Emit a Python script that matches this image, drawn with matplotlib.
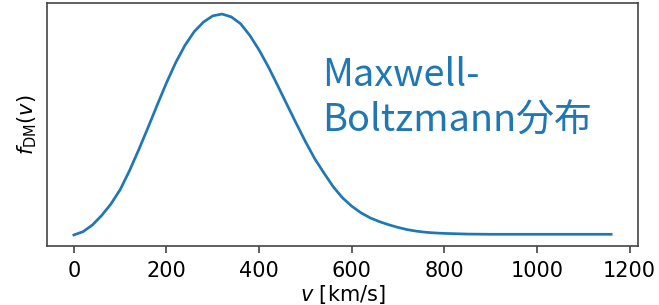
import matplotlib
matplotlib.use("Agg")
import matplotlib.pyplot as plt

# speed [km/s] and distribution value (arbitrary units)
v_kms = [0, 20, 40, 60, 80, 100, 120, 140, 160, 180, 200, 220, 240, 260,
         280, 300, 320, 340, 360, 380, 400, 420, 440, 460, 480, 500, 520,
         540, 560, 580, 600, 620, 640, 660, 680, 700, 720, 740, 760, 780,
         800, 850, 900, 1000, 1100, 1160]
f_dm = [0.000, 0.015, 0.045, 0.088, 0.140, 0.205, 0.290, 0.385, 0.485,
        0.588, 0.688, 0.780, 0.858, 0.920, 0.963, 0.991, 0.999, 0.986,
        0.955, 0.902, 0.836, 0.760, 0.676, 0.590, 0.505, 0.422, 0.345,
        0.280, 0.218, 0.168, 0.130, 0.100, 0.077, 0.060, 0.046, 0.034,
        0.024, 0.017, 0.012, 0.009, 0.007, 0.004, 0.003, 0.003, 0.003,
        0.003]

label = "Maxwell-\nBoltzmann分布"

fig = plt.figure(figsize=(659 / 150, 305 / 150), dpi=150)
ax = fig.add_axes([47 / 659, 1 - 246 / 305, 591 / 659, 243 / 305])

ax.plot(v_kms, f_dm, color="C0", lw=1.3)
ax.set_yticks([])
ax.set_xticks([0, 200, 400, 600, 800, 1000, 1200])
ax.set_xlabel(r"$v$ [km/s]", labelpad=1)
ax.set_ylabel(r"$f_{\rm DM}(v)$")
for s in ax.spines.values():
    s.set_color("#444444")
ax.tick_params(color="#444444")

ax.text(0.465, 0.469, label, transform=ax.transAxes, color="C0",
        fontsize=18.2, va="baseline", ha="left",
        family=["Noto Sans CJK JP", "DejaVu Sans"], linespacing=1.22)

fig.savefig("out.png", dpi=150)
